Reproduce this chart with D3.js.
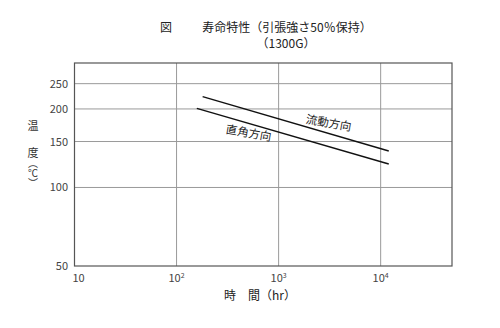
<!DOCTYPE html>
<html><head><meta charset="utf-8">
<script src="https://cdn.jsdelivr.net/npm/d3@7"></script>
<style>body{margin:0;background:#fff}svg{display:block}text{font-family:"Noto Sans CJK JP","Noto Sans",sans-serif}</style>
</head><body>
<svg id="c" width="500" height="328"></svg>
<script>
const xTicks = [10, 100, 1000, 10000];
const xTickLabels = ["10", "10", "10", "10"];
const xTickSups = ["", "2", "3", "4"];
const yTicks = [50, 100, 150, 200, 250];
const seriesNames = ["流動方向", "直角方向"];
const flowHours = [180, 12000];
const flowTemp = [223, 138];
const perpHours = [158, 12000];
const perpTemp = [201, 123];

const svg = d3.select("#c");
const L = 74.5, R = 452, T = 63, B = 266;
const x = d3.scaleLog().domain([10, 50000]).range([L, R]);
const y = d3.scaleLog().domain([50, 300]).range([B, T]);

// grid
svg.append("g").selectAll("line").data(yTicks.slice(1)).join("line")
  .attr("x1", L).attr("x2", R).attr("y1", d => y(d)).attr("y2", d => y(d))
  .attr("stroke", "#9a9a9a").attr("stroke-width", 1);
svg.append("g").selectAll("line").data(xTicks.slice(1)).join("line")
  .attr("y1", T).attr("y2", B).attr("x1", d => x(d)).attr("x2", d => x(d))
  .attr("stroke", "#9a9a9a").attr("stroke-width", 1);
svg.append("rect").attr("x", L).attr("y", T).attr("width", R - L).attr("height", B - T)
  .attr("fill", "none").attr("stroke", "#555").attr("stroke-width", 1.2);

// y tick labels
svg.append("g").selectAll("text").data(yTicks).join("text")
  .attr("x", 68).attr("y", d => y(d) + 4).attr("text-anchor", "end")
  .attr("font-size", 11).attr("fill", "#444").text(d => d);

// x tick labels
const xl = svg.append("g").selectAll("text").data(xTicks).join("text")
  .attr("x", (d, i) => x(d) + (i === 0 ? 4 : 0)).attr("y", 282).attr("text-anchor", "middle")
  .attr("font-size", 11).attr("fill", "#444");
xl.append("tspan").text((d, i) => xTickLabels[i]);
xl.append("tspan").attr("font-size", 7).attr("dy", -4).text((d, i) => xTickSups[i]);

// lines
const line = d3.line().x(d => x(d[0])).y(d => y(d[1]));
const series = [d3.zip(flowHours, flowTemp), d3.zip(perpHours, perpTemp)];
svg.append("g").selectAll("path").data(series).join("path")
  .attr("d", line).attr("fill", "none").attr("stroke", "#111").attr("stroke-width", 1.4);

// series labels
svg.append("text").attr("transform", "translate(328,127) rotate(10)")
  .attr("text-anchor", "middle").attr("font-size", 11.5).attr("fill", "#222").text(seriesNames[0]);
svg.append("text").attr("transform", "translate(248,137) rotate(10)")
  .attr("text-anchor", "middle").attr("font-size", 11.5).attr("fill", "#222").text(seriesNames[1]);

// title
svg.append("text").attr("x", 166).attr("y", 32).attr("text-anchor", "middle")
  .attr("font-size", 12).attr("fill", "#222").text("図");
svg.append("text").attr("x", 287).attr("y", 32).attr("text-anchor", "middle")
  .attr("font-size", 12).attr("fill", "#222").text("寿命特性（引張強さ50％保持）");
svg.append("text").attr("x", 286).attr("y", 48).attr("text-anchor", "middle")
  .attr("font-size", 12).attr("fill", "#222").text("（1300G）");

// y title
svg.append("text").attr("x", 33).attr("y", 130).attr("text-anchor", "middle")
  .attr("font-size", 11).attr("fill", "#333").text("温");
svg.append("text").attr("x", 33).attr("y", 157).attr("text-anchor", "middle")
  .attr("font-size", 11).attr("fill", "#333").text("度");
svg.append("text").attr("x", 33).attr("y", 158)
  .style("writing-mode", "vertical-rl").attr("text-anchor", "start")
  .attr("font-size", 10).attr("fill", "#333").text("（℃）");

// x title
svg.append("text").attr("x", 260).attr("y", 300).attr("text-anchor", "middle")
  .attr("font-size", 12).attr("fill", "#222").text("時　間（hr）");
</script>
</body></html>
